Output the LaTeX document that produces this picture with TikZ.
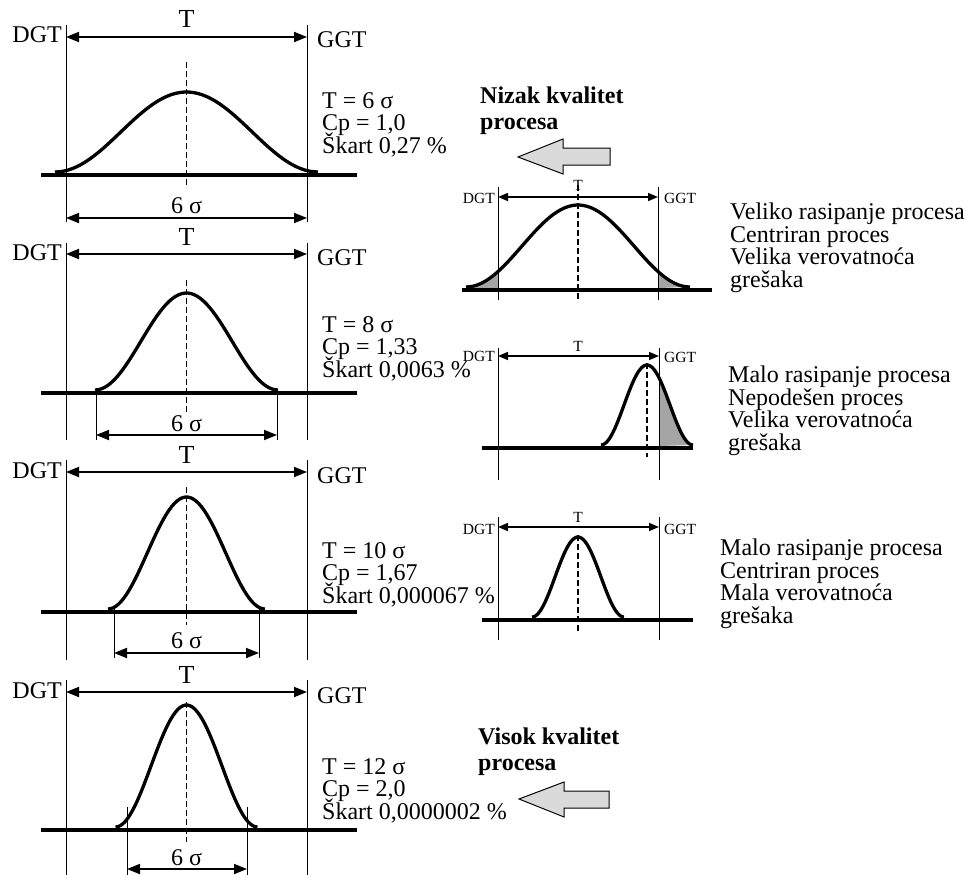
\documentclass[tikz,border=0pt]{standalone}
\usepackage{fontspec}
\setmainfont{Liberation Serif}
\usetikzlibrary{arrows.meta}
\definecolor{tailgray}{RGB}{165,165,165}
\definecolor{arrowgray}{RGB}{218,218,218}
\newcommand\tightlines{\setlength{\lineskiplimit}{-30pt}\setlength{\lineskip}{0pt}}

\begin{document}
\begin{tikzpicture}[x=1pt, y=-1pt,
    limit/.style={line width=1pt},
    ground/.style={line width=4.5pt},
    bell/.style={line width=3.3pt, line join=round},
    axisline/.style={line width=1.5pt, dash pattern=on 6pt off 3pt},
    dim/.style={line width=1.8pt, {Triangle[length=13pt,width=10pt]}-{Triangle[length=13pt,width=10pt]}},
    smalldim/.style={line width=1.5pt, {Triangle[length=10pt,width=8pt]}-{Triangle[length=10pt,width=8pt]}},
    txt/.style={inner sep=0pt, font=\fontsize{24}{22.5}\selectfont\tightlines, align=left},
    bigtxt/.style={inner sep=0pt, font=\fontsize{26}{26}\selectfont},
    smalltxt/.style={inner sep=0pt, font=\fontsize{15.5}{16}\selectfont},
    headtxt/.style={inner sep=0pt, font=\fontsize{24}{25.5}\selectfont\bfseries\tightlines, align=left},
    blockarrow/.style={draw=black, line width=1pt, fill=arrowgray, line join=miter}]
  \useasboundingbox (0,0) rectangle (966,875);

  %% 1. Left panel, T = 6 sigma
  \draw[limit] (66,25) -- (66,222);
  \draw[limit] (307,25) -- (307,222);
  \coordinate (dgtA) at (66,37);
  \coordinate (ggtA) at (307,37);
  \draw[dim] (dgtA) -- (ggtA);
  \node[bigtxt, anchor=base] (tA) at (186.5,28) {T};
  \node[txt, anchor=base east] (dgtlA) at (62,43) {DGT};
  \node[txt, anchor=base west] (ggtlA) at (317,48) {GGT};
  \draw[ground] (41,175) -- (357,175);
  \draw[bell] plot[domain=-1:1, samples=60] ({186.5+131.5*\x}, {172-80*(1+cos(180*\x))/2});
  \draw[axisline] (186.5,62) -- (186.5,188);
  \coordinate (lsA) at (66,218);
  \coordinate (rsA) at (307,218);
  \draw[dim] (lsA) -- (rsA);
  \node[txt, anchor=base] (sA) at (186.5,213) {6 σ};
  \node[txt, anchor=base west] (cpA) at (322,153) {T = 6 σ\\Cp = 1,0\\Škart 0,27 \%};

  %% 2. Left panel, T = 8 sigma
  \draw[limit] (66,243) -- (66,440);
  \draw[limit] (307,243) -- (307,440);
  \coordinate (dgtB) at (66,254);
  \coordinate (ggtB) at (307,254);
  \draw[dim] (dgtB) -- (ggtB);
  \node[bigtxt, anchor=base] (tB) at (186.5,245) {T};
  \node[txt, anchor=base east] (dgtlB) at (62,260) {DGT};
  \node[txt, anchor=base west] (ggtlB) at (317,265) {GGT};
  \draw[ground] (41,393) -- (357,393);
  \draw[bell] plot[domain=-1:1, samples=60] ({186.5+91.5*\x}, {390-97*(1+cos(180*\x))/2});
  \draw[axisline] (186.5,280) -- (186.5,415);
  \draw[limit] (96,390) -- (96,440);
  \draw[limit] (277,390) -- (277,440);
  \coordinate (lsB) at (96,435);
  \coordinate (rsB) at (277,435);
  \draw[dim] (lsB) -- (rsB);
  \node[txt, anchor=base] (sB) at (186.5,431) {6 σ};
  \node[txt, anchor=base west] (cpB) at (322,377) {T = 8 σ\\Cp = 1,33\\Škart 0,0063 \%};

  %% 3. Left panel, T = 10 sigma
  \draw[limit] (66,460) -- (66,660);
  \draw[limit] (307,460) -- (307,660);
  \coordinate (dgtC) at (66,472);
  \coordinate (ggtC) at (307,472);
  \draw[dim] (dgtC) -- (ggtC);
  \node[bigtxt, anchor=base] (tC) at (186.5,463) {T};
  \node[txt, anchor=base east] (dgtlC) at (62,478) {DGT};
  \node[txt, anchor=base west] (ggtlC) at (317,483) {GGT};
  \draw[ground] (41,612) -- (357,612);
  \draw[bell] plot[domain=-1:1, samples=60] ({186.5+78.5*\x}, {609-112*(1+cos(180*\x))/2});
  \draw[axisline] (186.5,487) -- (186.5,625);
  \draw[limit] (114,607) -- (114,658);
  \draw[limit] (259,607) -- (259,658);
  \coordinate (lsC) at (114,653);
  \coordinate (rsC) at (259,653);
  \draw[dim] (lsC) -- (rsC);
  \node[txt, anchor=base] (sC) at (186.5,648) {6 σ};
  \node[txt, anchor=base west] (cpC) at (322,603) {T = 10 σ\\Cp = 1,67\\Škart 0,000067 \%};

  %% 4. Left panel, T = 12 sigma
  \draw[limit] (66,680) -- (66,875);
  \draw[limit] (307,680) -- (307,875);
  \coordinate (dgtD) at (66,692);
  \coordinate (ggtD) at (307,692);
  \draw[dim] (dgtD) -- (ggtD);
  \node[bigtxt, anchor=base] (tD) at (186.5,683) {T};
  \node[txt, anchor=base east] (dgtlD) at (62,698) {DGT};
  \node[txt, anchor=base west] (ggtlD) at (317,703) {GGT};
  \draw[ground] (41,830) -- (357,830);
  \draw[bell] plot[domain=-1:1, samples=60] ({186.5+71*\x}, {827-122*(1+cos(180*\x))/2});
  \draw[axisline] (186.5,702) -- (186.5,842);
  \draw[limit] (127,807) -- (127,875);
  \draw[limit] (247,807) -- (247,875);
  \coordinate (lsD) at (127,869);
  \coordinate (rsD) at (247,869);
  \draw[dim] (lsD) -- (rsD);
  \node[txt, anchor=base] (sD) at (186.5,865) {6 σ};
  \node[txt, anchor=base west] (cpD) at (322,819) {T = 12 σ\\Cp = 2,0\\Škart 0,0000002 \%};

  %% 5. Right panel, wide and centred
  \fill[tailgray] (466,288) -- plot[domain=-1:-0.714, samples=20] ({578+112*\x}, {287-82*(1+cos(180*\x))/2}) -- (498,288) -- cycle;
  \fill[tailgray] (658,288) -- plot[domain=0.714:1, samples=20] ({578+112*\x}, {287-82*(1+cos(180*\x))/2}) -- cycle;
  \draw[limit] (498,187) -- (498,300);
  \draw[limit] (658,187) -- (658,300);
  \coordinate (dgtE) at (498,197);
  \coordinate (ggtE) at (658,197);
  \draw[smalldim] (dgtE) -- (ggtE);
  \node[smalltxt, anchor=base] (tE) at (578,190) {T};
  \node[smalltxt, anchor=base east] (dgtlE) at (495,203) {DGT};
  \node[smalltxt, anchor=base west] (ggtlE) at (664,203) {GGT};
  \draw[ground] (462,290) -- (712,290);
  \draw[bell] plot[domain=-1:1, samples=60] ({578+112*\x}, {287-82*(1+cos(180*\x))/2});
  \draw[axisline] (578,185) -- (578,302);
  \node[txt, anchor=base west] (noteE) at (730,287) {Veliko rasipanje procesa\\Centriran proces\\Velika verovatnoća\\grešaka};

  %% 6. Right panel, narrow and shifted
  \fill[tailgray] (659,446) -- plot[domain=0.261:1, samples=20] ({647+46*\x}, {445-80*(1+cos(180*\x))/2}) -- cycle;
  \draw[limit] (498,348) -- (498,480);
  \draw[limit] (659,348) -- (659,480);
  \coordinate (dgtF) at (498,356);
  \coordinate (ggtF) at (659,356);
  \draw[smalldim] (dgtF) -- (ggtF);
  \node[smalltxt, anchor=base] (tF) at (578,351) {T};
  \node[smalltxt, anchor=base east] (dgtlF) at (495,361) {DGT};
  \node[smalltxt, anchor=base west] (ggtlF) at (664,362) {GGT};
  \draw[ground] (482,448) -- (693,448);
  \draw[bell] plot[domain=-1:1, samples=60] ({647+46*\x}, {445-80*(1+cos(180*\x))/2});
  \draw[axisline] (647,363) -- (647,457);
  \node[txt, anchor=base west] (noteF) at (728,450) {Malo rasipanje procesa\\Nepodešen proces\\Velika verovatnoća\\grešaka};

  %% 7. Right panel, narrow and centred
  \draw[limit] (498,517) -- (498,640);
  \draw[limit] (659,517) -- (659,640);
  \coordinate (dgtG) at (498,527);
  \coordinate (ggtG) at (659,527);
  \draw[smalldim] (dgtG) -- (ggtG);
  \node[smalltxt, anchor=base] (tG) at (578,522) {T};
  \node[smalltxt, anchor=base east] (dgtlG) at (495,534) {DGT};
  \node[smalltxt, anchor=base west] (ggtlG) at (664,534) {GGT};
  \draw[ground] (482,620) -- (693,620);
  \draw[bell] plot[domain=-1:1, samples=60] ({578+46*\x}, {617-80*(1+cos(180*\x))/2});
  \draw[axisline] (578,535) -- (578,632);
  \node[txt, anchor=base west] (noteG) at (720,623) {Malo rasipanje procesa\\Centriran proces\\Mala verovatnoća\\grešaka};

  %% 8. Quality arrows
  \node[headtxt, anchor=base west] (low) at (480,129) {Nizak kvalitet\\procesa};
  \draw[blockarrow] (610,148) -- (563,148) -- (563,139) -- (518,157) -- (563,174) -- (563,165) -- (610,165) -- cycle;
  \node[headtxt, anchor=base west] (high) at (478,770) {Visok kvalitet\\procesa};
  \draw[blockarrow] (609,791) -- (564,791) -- (564,782) -- (519,799) -- (564,817) -- (564,808) -- (609,808) -- cycle;
\end{tikzpicture}
\end{document}
